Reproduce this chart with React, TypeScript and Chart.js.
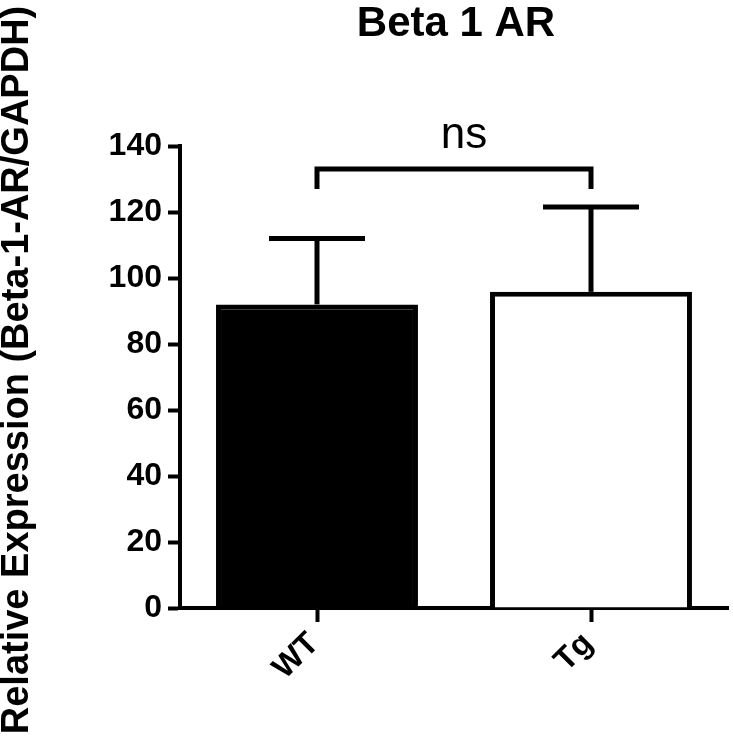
import React, { useEffect, useRef } from 'react';
import { Chart, registerables } from 'chart.js';

Chart.register(...registerables);

// ---- data ----
const categories = ['WT', 'Tg'];
const meanValues = [92, 95.8];
const errorValues = [20, 25.7];
const barFills = ['#000000', '#ffffff'];
const yTickMin = 0;
const yTickMax = 140;
const yTickStep = 20;
const chartTitle = 'Beta 1 AR';
const yAxisTitle = 'Relative Expression (Beta-1-AR/GAPDH)';
const significanceLabel = 'ns';
const bracketTop = 133;
const bracketLegBottom = 127;

const FONT = '"Liberation Sans", Arial, Helvetica, sans-serif';

const annotationPlugin = {
  id: 'annotations',
  afterDatasetsDraw(chart: any) {
    const { ctx, scales, chartArea } = chart;
    const x = scales.x;
    const y = scales.y;
    ctx.save();
    ctx.strokeStyle = '#000';
    ctx.lineWidth = 5;
    ctx.lineCap = 'butt';
    ctx.lineJoin = 'miter';
    // error bars
    categories.forEach((_c, i) => {
      const px = x.getPixelForValue(i);
      const top = y.getPixelForValue(meanValues[i]);
      const cap = y.getPixelForValue(meanValues[i] + errorValues[i]);
      ctx.beginPath();
      ctx.moveTo(px, top);
      ctx.lineTo(px, cap);
      ctx.stroke();
      ctx.beginPath();
      ctx.moveTo(px - 48, cap);
      ctx.lineTo(px + 48, cap);
      ctx.stroke();
    });
    // significance bracket
    const x1 = x.getPixelForValue(0);
    const x2 = x.getPixelForValue(1);
    const yb = y.getPixelForValue(bracketTop);
    const yl = y.getPixelForValue(bracketLegBottom);
    ctx.beginPath();
    ctx.moveTo(x1, yl);
    ctx.lineTo(x1, yb);
    ctx.lineTo(x2, yb);
    ctx.lineTo(x2, yl);
    ctx.stroke();
    ctx.fillStyle = '#000';
    ctx.font = `44px ${FONT}`;
    ctx.textAlign = 'center';
    ctx.textBaseline = 'alphabetic';
    ctx.fillText(significanceLabel, (x1 + x2) / 2 + 10, yb - 21);

    // chart title
    ctx.font = `bold 42px ${FONT}`;
    ctx.fillText(chartTitle, (chartArea.left + chartArea.right) / 2 + 2, 36);

    // y axis title
    ctx.save();
    ctx.translate(28, 370);
    ctx.rotate(-Math.PI / 2);
    ctx.font = `bold 38px ${FONT}`;
    ctx.textAlign = 'center';
    ctx.textBaseline = 'alphabetic';
    ctx.fillText(yAxisTitle, 0, 0);
    ctx.restore();

    ctx.restore();
  },
};

export default function App() {
  const canvasRef = useRef<HTMLCanvasElement | null>(null);

  useEffect(() => {
    const canvas = canvasRef.current;
    if (!canvas) return;
    const chart = new Chart(canvas, {
      type: 'bar',
      data: {
        labels: categories,
        datasets: [
          {
            label: yAxisTitle,
            data: meanValues,
            backgroundColor: barFills,
            borderColor: '#000000',
            borderWidth: 5,
            barPercentage: 0.737,
            categoryPercentage: 1,
          },
        ],
      },
      options: {
        responsive: false,
        animation: false,
        devicePixelRatio: 1,
        layout: { padding: { top: 146, right: 5, left: 0, bottom: 0 } },
        plugins: {
          legend: { display: false },
          tooltip: { enabled: false },
          title: { display: false },
        },
        scales: {
          x: {
            offset: true,
            afterFit: (scale: any) => {
              scale.height = 134;
            },
            grid: {
              display: true,
              drawOnChartArea: false,
              drawTicks: true,
              tickLength: 14,
              tickWidth: 4,
              tickColor: '#000',
              offset: false,
            },
            border: { display: true, color: '#000', width: 4 },
            ticks: {
              color: '#000',
              font: { family: FONT, size: 32, weight: 'bold' },
              minRotation: 45,
              maxRotation: 45,
              padding: 3,
              labelOffset: -3,
            },
          },
          y: {
            min: yTickMin,
            max: yTickMax,
            afterFit: (scale: any) => {
              scale.width = 180;
            },
            grid: {
              display: true,
              drawOnChartArea: false,
              drawTicks: true,
              tickLength: 12,
              tickWidth: 4,
              tickColor: '#000',
            },
            border: { display: true, color: '#000', width: 4 },
            ticks: {
              stepSize: yTickStep,
              color: '#000',
              padding: 6,
              font: { family: FONT, size: 32, weight: 'bold' },
            },
          },
        },
      },
      plugins: [annotationPlugin],
    });
    return () => chart.destroy();
  }, []);

  return (
    <div style={{ position: 'absolute', left: 0, top: 0, width: 733, height: 742, background: '#fff' }}>
      <canvas ref={canvasRef} width={733} height={742} style={{ display: 'block' }} />
    </div>
  );
}
